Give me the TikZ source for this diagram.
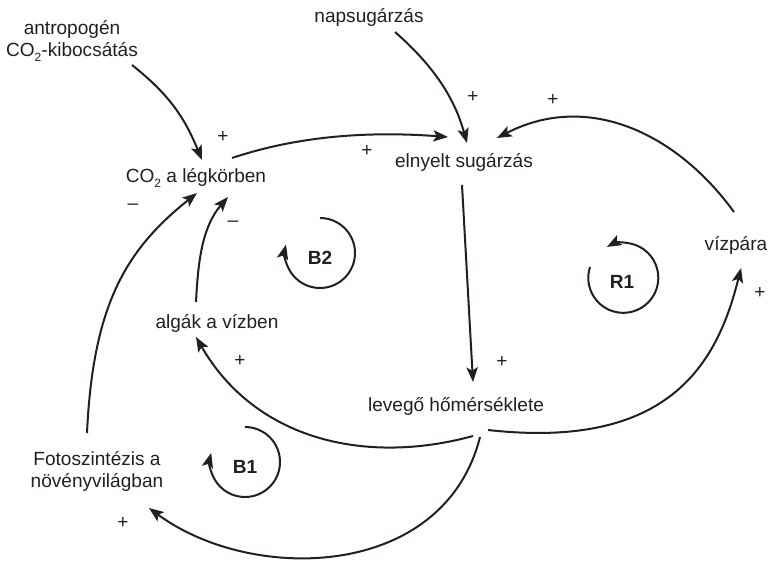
\documentclass[tikz,border=0pt]{standalone}
\usepackage{fontspec}
\setmainfont{Liberation Sans}
\usetikzlibrary{arrows.meta}
\definecolor{ink}{RGB}{35,31,32}
\newcommand{\subtwo}{\raisebox{-0.45ex}{\fontsize{9pt}{9pt}\selectfont 2}}
\begin{document}
\begin{tikzpicture}[x=0.75pt,y=-0.75pt,
  lbl/.style={font=\fontsize{14.3pt}{16.5pt}\selectfont, text=ink, inner sep=0pt, align=center},
  sign/.style={font=\fontsize{14.3pt}{16.5pt}\selectfont, text=ink, inner sep=0pt},
  loopname/.style={font=\fontsize{14.3pt}{16.5pt}\selectfont\bfseries, text=ink, inner sep=0pt},
  link/.style={draw=ink, line width=1.5pt, -{Stealth[length=11pt,width=8.5pt,inset=2.5pt]}},
]
\useasboundingbox (0,0) rectangle (770,560);

% variables
\node[lbl] (anthro) at (72,41) {antropogén\\CO\subtwo-kibocsátás};
\node[lbl] (nap) at (369,17) {napsugárzás};
\node[lbl] (co2) at (196,178) {CO\subtwo\ a légkörben};
\node[lbl] (eln) at (464,162) {elnyelt sugárzás};
\node[lbl] (viz) at (736,245) {vízpára};
\node[lbl] (alg) at (217,323) {algák a vízben};
\node[lbl] (lev) at (456,406) {levegő hőmérséklete};
\node[lbl] (foto) at (97,471) {Fotoszintézis a\\növényvilágban};

% loop names
\node[loopname] (b2) at (320,258) {B2};
\node[loopname] (b1) at (245,467) {B1};
\node[loopname] (r1) at (622,282) {R1};

% links
\draw[link] ([shift={(60,24)}]anthro.center) .. controls (171,96) and (185,119) .. ([shift={(6,-18)}]co2.center);
\draw[link] ([shift={(26,15)}]nap.center) .. controls (436,68) and (455,100) .. ([shift={(3,-19)}]eln.center);
\draw[link] ([shift={(36,-20)}]co2.center) .. controls (298,136) and (368,131) .. ([shift={(-16,-25)}]eln.center);
\draw[link] ([shift={(-2,23)}]eln.center) -- ([shift={(17,-24)}]lev.center);
\draw[link] ([shift={(-2,-33)}]viz.center) .. controls (675,131) and (586,92) .. ([shift={(33,-24)}]eln.center);
\draw[link] ([shift={(32,24)}]lev.center) .. controls (668,450) and (717,365) .. ([shift={(5,23)}]viz.center);
\draw[link] ([shift={(17,30)}]lev.center) .. controls (367,465) and (256,441) .. ([shift={(-21,14)}]alg.center);
\draw[link] ([shift={(24,31)}]lev.center) .. controls (444,580) and (252,584) .. ([shift={(52,37)}]foto.center);
\draw[link] ([shift={(-10,-38)}]foto.center) .. controls (93,303) and (127,249) .. ([shift={(1,15)}]co2.center);
\draw[link] ([shift={(-21,-21)}]alg.center) .. controls (198,262) and (202,227) .. ([shift={(32,19)}]co2.center);

% loop arrows
\draw[link] ([shift={(0,-40)}]b2.center) arc[start angle=90, end angle=-194, radius=26.25pt];
\draw[link] ([shift={(0,-40)}]b1.center) arc[start angle=90, end angle=-195, radius=26.25pt];
\draw[link] ([shift={(-32,-15)}]r1.center) arc[start angle=162, end angle=478, radius=26.25pt];

% polarity signs
\node[sign] (p1) at (223,137) {+};
\node[sign] (p2) at (367,151) {+};
\node[sign] (m1) at (133,207) {–};
\node[sign] (m2) at (233,224) {–};
\node[sign] (p3) at (473,97) {+};
\node[sign] (p4) at (553,100) {+};
\node[sign] (p5) at (760,293) {+};
\node[sign] (p6) at (502,362) {+};
\node[sign] (p7) at (240,361) {+};
\node[sign] (p8) at (123,523) {+};
\end{tikzpicture}
\end{document}
